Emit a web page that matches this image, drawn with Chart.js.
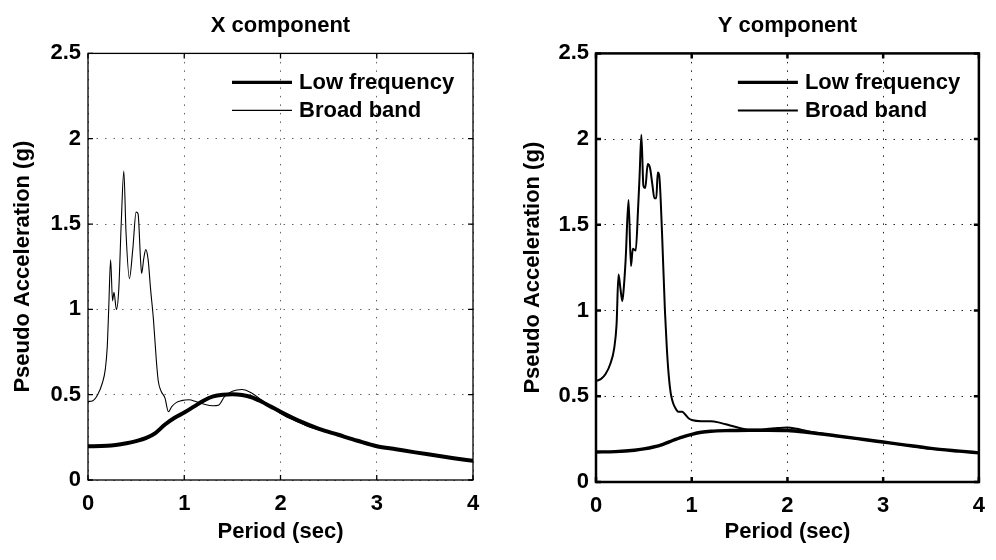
<!DOCTYPE html>
<html>
<head>
<meta charset="utf-8">
<script src="https://cdn.jsdelivr.net/npm/chart.js@4.4.0/dist/chart.umd.min.js"></script>
<style>
  html, body { margin: 0; padding: 0; background: #fff; }
  #wrap { position: relative; width: 996px; height: 560px; overflow: hidden; }
  canvas { position: absolute; top: 0; }
  #chartX { left: 0; }
  #chartY { left: 498px; }
</style>
</head>
<body>
<div id="wrap">
  <canvas id="chartX" width="498" height="560"></canvas>
  <canvas id="chartY" width="498" height="560"></canvas>
</div>
<script>
// Response spectra: pseudo acceleration (g) against period (sec)
const seriesNames = ['Low frequency', 'Broad band'];
const periodTicks = [0, 1, 2, 3, 4];
const accelTicks = [0, 0.5, 1, 1.5, 2, 2.5];

// X component, low frequency
const xLowPeriod = [0, 0.2, 0.4, 0.5, 0.6, 0.7, 0.8, 0.9, 1.0, 1.1, 1.2, 1.3, 1.4, 1.5, 1.6, 1.7, 1.8, 1.9, 2.0, 2.2, 2.4, 2.6, 2.8, 3.0, 3.2, 3.4, 3.6, 3.8, 4.0];
const xLowAccel  = [0.198, 0.2, 0.215, 0.228, 0.245, 0.275, 0.325, 0.365, 0.395, 0.43, 0.465, 0.49, 0.5, 0.502, 0.498, 0.485, 0.46, 0.43, 0.40, 0.345, 0.30, 0.265, 0.23, 0.198, 0.18, 0.162, 0.145, 0.128, 0.112];

// X component, broad band
const xBroadPeriod = [0, 0.05, 0.1, 0.15, 0.18, 0.2, 0.215, 0.235, 0.255, 0.27, 0.295, 0.32, 0.345, 0.372, 0.395, 0.43, 0.465, 0.5, 0.52, 0.545, 0.557, 0.58, 0.6, 0.625, 0.65, 0.68, 0.71, 0.73, 0.76, 0.8, 0.835, 0.87, 0.92, 0.97, 1.05, 1.12, 1.2, 1.3, 1.36, 1.42, 1.5, 1.6, 1.7, 1.8, 1.9, 2.0, 2.1, 2.2, 2.3, 2.5, 2.75, 3.0, 3.25, 3.5, 3.75, 4.0];
const xBroadAccel  = [0.46, 0.465, 0.50, 0.57, 0.65, 0.78, 1.0, 1.29, 1.05, 1.10, 1.0, 1.12, 1.50, 1.81, 1.45, 1.18, 1.35, 1.57, 1.56, 1.30, 1.21, 1.30, 1.35, 1.29, 1.12, 0.94, 0.70, 0.58, 0.52, 0.48, 0.40, 0.43, 0.455, 0.465, 0.47, 0.46, 0.445, 0.435, 0.44, 0.49, 0.52, 0.53, 0.51, 0.47, 0.43, 0.39, 0.36, 0.335, 0.31, 0.28, 0.235, 0.195, 0.175, 0.155, 0.135, 0.113];

// Y component, low frequency
const yLowPeriod = [0, 0.2, 0.4, 0.5, 0.6, 0.7, 0.8, 0.9, 1.0, 1.1, 1.2, 1.4, 1.6, 1.8, 2.0, 2.2, 2.5, 2.8, 3.0, 3.2, 3.5, 3.8, 4.0];
const yLowAccel  = [0.175, 0.177, 0.185, 0.193, 0.204, 0.22, 0.242, 0.262, 0.278, 0.29, 0.296, 0.30, 0.302, 0.302, 0.30, 0.29, 0.27, 0.248, 0.233, 0.218, 0.196, 0.18, 0.17];

// Y component, broad band
const yBroadPeriod = [0, 0.05, 0.1, 0.15, 0.19, 0.215, 0.235, 0.255, 0.275, 0.29, 0.31, 0.34, 0.365, 0.385, 0.415, 0.44, 0.455, 0.474, 0.495, 0.515, 0.54, 0.565, 0.59, 0.61, 0.63, 0.645, 0.66, 0.69, 0.72, 0.74, 0.76, 0.78, 0.8, 0.83, 0.86, 0.9, 0.93, 0.97, 1.0, 1.1, 1.2, 1.3, 1.4, 1.5, 1.6, 1.7, 1.8, 1.9, 2.0, 2.1, 2.2, 2.5, 3.0, 3.5, 4.0];
const yBroadAccel  = [0.59, 0.60, 0.63, 0.69, 0.78, 0.92, 1.21, 1.13, 1.055, 1.13, 1.30, 1.645, 1.26, 1.36, 1.35, 1.60, 1.78, 2.025, 1.73, 1.715, 1.855, 1.83, 1.73, 1.655, 1.655, 1.805, 1.79, 1.45, 1.0, 0.78, 0.62, 0.52, 0.47, 0.43, 0.41, 0.41, 0.395, 0.37, 0.362, 0.355, 0.355, 0.345, 0.33, 0.315, 0.305, 0.305, 0.31, 0.315, 0.318, 0.31, 0.298, 0.27, 0.233, 0.195, 0.17];

const FONT = '"Liberation Sans", Arial, Helvetica, sans-serif';

function toPoints(xs, ys) {
  return xs.map((x, i) => ({ x: x, y: ys[i] }));
}

// Axes box with inward tick marks, drawn over the curves
const framePlugin = {
  id: 'frame',
  afterDatasetsDraw(chart, args, opts) {
    const { ctx, chartArea: a, scales } = chart;
    const len = 5;
    ctx.save();
    ctx.strokeStyle = '#000';
    ctx.lineWidth = opts.width;
    ctx.beginPath();
    scales.x.ticks.forEach(t => {
      const px = scales.x.getPixelForValue(t.value);
      ctx.moveTo(px, a.bottom); ctx.lineTo(px, a.bottom - len);
      ctx.moveTo(px, a.top); ctx.lineTo(px, a.top + len);
    });
    scales.y.ticks.forEach(t => {
      const py = scales.y.getPixelForValue(t.value);
      ctx.moveTo(a.left, py); ctx.lineTo(a.left + len, py);
      ctx.moveTo(a.right, py); ctx.lineTo(a.right - len, py);
    });
    ctx.stroke();
    ctx.strokeRect(a.left, a.top, a.right - a.left, a.bottom - a.top);
    ctx.restore();
  }
};

// Key in the upper right of the plot area
const keyPlugin = {
  id: 'key',
  afterDraw(chart, args, opts) {
    const { ctx, chartArea: a } = chart;
    ctx.save();
    ctx.font = 'bold 22px ' + FONT;
    ctx.fillStyle = '#000';
    ctx.textBaseline = 'middle';
    ctx.textAlign = 'left';
    chart.data.datasets.forEach((ds, i) => {
      const y = a.top + opts.firstRow + i * opts.rowGap;
      ctx.strokeStyle = ds.borderColor;
      ctx.lineWidth = opts.keyWidths[i];
      ctx.beginPath();
      ctx.moveTo(a.right - opts.lineStart, y);
      ctx.lineTo(a.right - opts.lineEnd, y);
      ctx.stroke();
      ctx.fillText(ds.label, a.right - opts.textStart, y + 1);
    });
    ctx.restore();
  }
};

const plainNumber = v => String(v);

function makeChart(id, p) {
  return new Chart(document.getElementById(id), {
    type: 'line',
    data: {
      datasets: [
        {
          label: seriesNames[0],
          data: toPoints(p.lowX, p.lowY),
          borderColor: '#000',
          borderWidth: p.lowWidth,
          pointRadius: 0,
          cubicInterpolationMode: 'monotone',
          fill: false
        },
        {
          label: seriesNames[1],
          data: toPoints(p.broadX, p.broadY),
          borderColor: '#000',
          borderWidth: p.broadWidth,
          pointRadius: 0,
          cubicInterpolationMode: 'monotone',
          fill: false
        }
      ]
    },
    options: {
      responsive: false,
      animation: false,
      devicePixelRatio: 1,
      events: [],
      layout: { padding: { left: 0, right: p.padRight, top: 0, bottom: 10 } },
      plugins: {
        legend: { display: false },
        tooltip: { enabled: false },
        title: {
          display: true,
          text: p.title,
          fullSize: false,
          color: '#000',
          font: { family: FONT, size: 22, weight: 'bold', lineHeight: 1.2 },
          padding: { top: 13, bottom: 14 }
        },
        frame: { width: p.boxWidth },
        key: { firstRow: 29, rowGap: 28, lineStart: 241, lineEnd: 181, textStart: 174, keyWidths: [p.keyLowWidth, p.broadWidth] }
      },
      scales: {
        x: {
          type: 'linear',
          min: 0,
          max: 4,
          afterBuildTicks(scale) { scale.ticks = periodTicks.map(v => ({ value: v })); },
          afterFit(scale) { scale.height = p.xAxisHeight; },
          ticks: {
            color: '#000',
            padding: 11,
            callback: plainNumber,
            font: { family: FONT, size: 22, weight: 'bold' }
          },
          grid: { color: p.gridColor, lineWidth: 1, drawTicks: false },
          border: { display: false, dash: [1.5, 7] },
          title: {
            display: true,
            text: 'Period (sec)',
            color: '#000',
            font: { family: FONT, size: 22, weight: 'bold', lineHeight: 1.2 },
            padding: { top: 0, bottom: 5 }
          }
        },
        y: {
          type: 'linear',
          min: 0,
          max: 2.5,
          afterBuildTicks(scale) { scale.ticks = accelTicks.map(v => ({ value: v })); },
          afterFit(scale) { scale.width = p.yAxisWidth; },
          ticks: {
            color: '#000',
            padding: 7,
            callback: plainNumber,
            font: { family: FONT, size: 22, weight: 'bold' }
          },
          grid: { color: p.gridColor, lineWidth: 1, drawTicks: false },
          border: { display: false, dash: [1.5, 7] },
          title: {
            display: true,
            text: 'Pseudo Acceleration (g)',
            color: '#000',
            font: { family: FONT, size: 22, weight: 'bold', lineHeight: 1.2 },
            padding: { top: p.yTitleGap, bottom: 0 }
          }
        }
      }
    },
    plugins: [framePlugin, keyPlugin]
  });
}

makeChart('chartX', {
  title: 'X component',
  lowX: xLowPeriod, lowY: xLowAccel,
  broadX: xBroadPeriod, broadY: xBroadAccel,
  lowWidth: 4, broadWidth: 1.1, keyLowWidth: 3.3,
  boxWidth: 1.3, gridColor: '#666',
  padRight: 25, yAxisWidth: 88, xAxisHeight: 70, yTitleGap: 10
});

makeChart('chartY', {
  title: 'Y component',
  lowX: yLowPeriod, lowY: yLowAccel,
  broadX: yBroadPeriod, broadY: yBroadAccel,
  lowWidth: 3.4, broadWidth: 2, keyLowWidth: 3.4,
  boxWidth: 2.5, gridColor: '#222',
  padRight: 15, yAxisWidth: 98, xAxisHeight: 68, yTitleGap: 22
});
</script>
</body>
</html>
